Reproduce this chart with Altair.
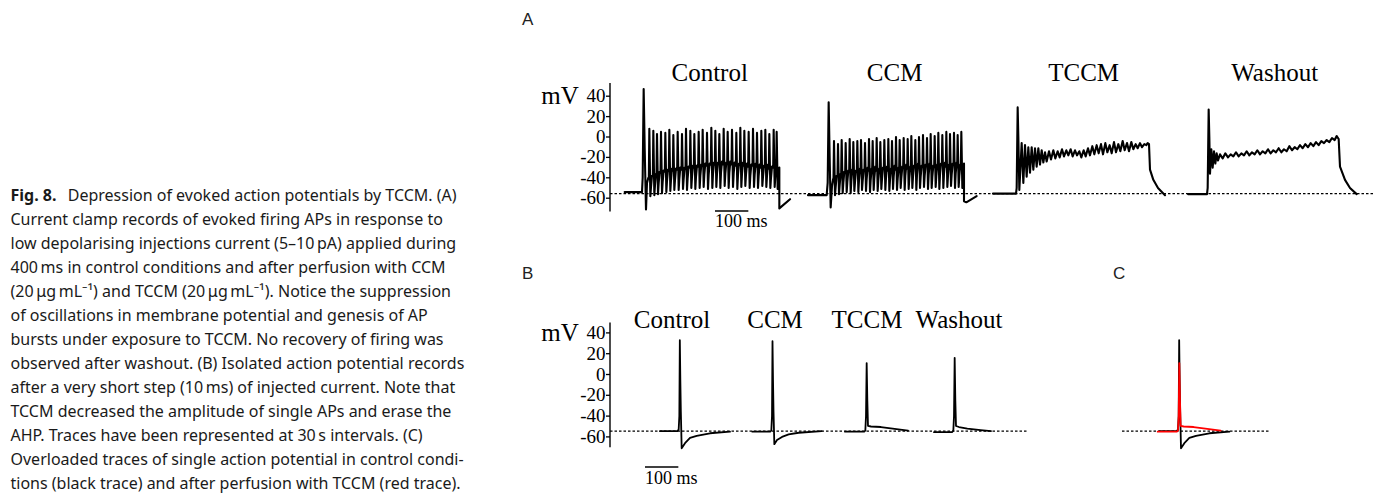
import altair as alt
import pandas as pd

# ---------------- data ----------------
conditions = ["Control", "CCM", "TCCM", "Washout"]
y_ticks = [40, 20, 0, -20, -40, -60]
axis_A = (-73, 53)      # extent of panel A voltage axis (mV)
axis_B = (-70, 50)      # extent of panel B voltage axis (mV)
rest_A = -55.5          # dotted resting level, panel A (mV)
rest_B = -54.5          # dotted resting level, panels B/C (mV)
bar_ms = 100
bar_label = "100 ms"
unit_label = "mV"

# Panel A — Control (t in ms from stimulus onset, mV)
ctrl_pre = [(-55, -54), (-3, -54), (-1, -40), (2, 47), (5, -10), (9, -71), (12, -45), (16, -40)]
ctrl_spike_t = [19, 31, 42, 54, 67, 79, 91, 104, 117, 129, 142, 154, 167, 179, 192, 205,
                217, 229, 242, 254, 267, 280, 292, 304, 317, 330, 342, 355, 367, 379, 392, 401]
ctrl_peak = [8, 6, 3, 5, 4, 7, 2, 5, 3, 8, 6, 3, 5, 7, 4, 9,
             6, 3, 8, 5, 7, 4, 9, 6, 5, 8, 4, 6, 7, 3, 7, 5]
ctrl_trough = [-58, -57, -56, -55, -54, -53, -52, -52, -51, -52, -50, -51, -50, -49, -51, -50,
               -49, -50, -48, -50, -49, -51, -49, -48, -50, -49, -50, -48, -49, -50, -49, -51]
ctrl_plateau = [-40, -38, -36, -35, -34, -33, -33, -32, -32, -31, -30, -30, -29, -28, -28, -27,
                -27, -26, -27, -26, -27, -28, -27, -28, -29, -28, -29, -30, -29, -31, -30, -32]
ctrl_post = [(409, -70), (441, -61)]

# Panel A — CCM
ccm_pre = [(-60, -57), (-4, -57), (-1, -45), (2, 34), (5, -20), (8, -69), (12, -48), (15, -42)]
ccm_spike_t = [18, 30, 41, 53, 65, 76, 88, 99, 111, 123, 134, 146, 157, 169, 181, 192, 204,
               215, 227, 239, 250, 262, 273, 285, 297, 308, 320, 331, 343, 355, 366, 378, 389, 400]
ccm_peak = [-4, -7, -3, -6, -2, -5, -4, -3, -6, -2, -4, -1, -5, -3, -2, -4, 0,
            -3, -1, -2, 1, -3, 0, 2, -1, 3, 1, 4, 2, 5, 3, 4, 2, 5]
ccm_trough = [-57, -56, -55, -54, -55, -53, -54, -52, -53, -54, -52, -53, -51, -52, -53, -51, -52,
              -50, -52, -51, -50, -52, -50, -49, -51, -50, -49, -51, -50, -49, -48, -50, -49, -50]
ccm_plateau = [-40, -38, -36, -35, -34, -35, -33, -34, -32, -33, -31, -33, -32, -31, -33, -30, -32,
               -31, -29, -31, -30, -28, -30, -29, -28, -30, -29, -28, -27, -29, -28, -27, -29, -28]
ccm_post = [(408, -63), (415, -64), (446, -58)]

# Panel A — TCCM (vertices, ms from onset, mV)
tccm_A = [(-72, -55.5), (-3, -55.5), (-1, -50), (2, 29), (4, 0), (7, -52),
          (14, -6), (19, -45), (24, -8), (29, -39), (34, -10), (39, -35), (44, -10), (49, -32),
          (54, -11), (59, -29), (64, -11), (69, -27), (74, -13), (79, -25), (84, -15), (89, -24),
          (96, -14), (102, -22), (109, -13), (115, -21), (122, -14), (128, -20), (135, -12),
          (141, -19), (148, -13), (154, -18), (161, -12), (167, -19), (174, -13), (180, -18),
          (187, -14), (193, -20), (200, -13), (206, -19), (213, -11), (219, -18), (226, -9),
          (232, -17), (239, -8), (245, -16), (252, -7), (258, -17), (265, -6), (271, -15),
          (278, -8), (284, -16), (291, -5), (297, -15), (304, -7), (310, -14), (317, -4),
          (323, -13), (330, -6), (336, -14), (343, -5), (349, -12), (356, -7), (362, -11),
          (369, -6), (375, -10), (382, -7), (388, -8),
          (392, -6), (396, -7), (399, -32), (409, -42), (423, -50), (444, -57)]

# Panel A — Washout
wash_A = [(-60, -56), (-3, -56), (-1, -50), (2, 27), (4, 0), (6, -36), (10, -12), (14, -30),
          (18, -14), (22, -26), (26, -16), (30, -23),
          (36, -17), (44, -21), (52, -16), (60, -20), (68, -17), (76, -19), (84, -15), (92, -19),
          (100, -16), (108, -18), (116, -14), (124, -18), (132, -15), (140, -17), (148, -13),
          (156, -17), (164, -14), (172, -16), (180, -12), (188, -16), (196, -13), (204, -15),
          (212, -11), (220, -15), (228, -12), (236, -14), (244, -9), (252, -13), (260, -10),
          (268, -12), (276, -8), (284, -11), (292, -7), (300, -10), (308, -6), (316, -9),
          (324, -5), (332, -8), (340, -4), (348, -6), (356, -3), (364, -5), (372, -1), (380, -3),
          (386, 1),
          (392, -2), (396, -29), (411, -42), (426, -50), (446, -56)]

# Panel B — isolated APs (ms from spike, mV)
ctrl_B = [(-58, -54.5), (-6, -54.5), (-2, -53), (0, -40), (1.5, 33), (3, -5), (4.5, -35),
          (7, -71), (17, -66), (32, -61), (52, -59), (92, -56.5), (152, -55)]
ccm_B = [(-59, -55), (-6, -55), (-2, -54), (0, -40), (1.5, 32), (3, -5), (4.5, -35),
         (7, -67), (15, -63), (30, -60), (50, -57.5), (80, -56), (149, -54.5)]
tccm_B = [(-63, -55), (-6, -55), (-2, -54), (0, -40), (2, 11), (4, -25), (6, -49.5),
          (15, -50), (45, -50.5), (80, -52), (126, -54)]
wash_B = [(-60, -55.5), (-6, -55.5), (-2, -54), (0, -40), (2, 16), (4, -25), (6, -49.5),
          (15, -50.5), (40, -52), (80, -53.5), (111, -54.5)]

caption_bold = "Fig. 8."
caption_lines = [
    "Depression of evoked action potentials by TCCM. (A)",
    "Current clamp records of evoked firing APs in response to",
    "low depolarising injections current (5\u201310\u2009pA) applied during",
    "400\u2009ms in control conditions and after perfusion with CCM",
    "(20\u2009\u03bcg\u2009mL\u207b\u00b9) and TCCM (20\u2009\u03bcg\u2009mL\u207b\u00b9). Notice the suppression",
    "of oscillations in membrane potential and genesis of AP",
    "bursts under exposure to TCCM. No recovery of firing was",
    "observed after washout. (B) Isolated action potential records",
    "after a very short step (10\u2009ms) of injected current. Note that",
    "TCCM decreased the amplitude of single APs and erase the",
    "AHP. Traces have been represented at 30\u2009s intervals. (C)",
    "Overloaded traces of single action potential in control condi-",
    "tions (black trace) and after perfusion with TCCM (red trace).",
]
panel_letters = ["A", "B", "C"]

# ---------------- layout (shared time axis: 3 ms per pixel) ----------------
W, H = 1367, 485
X_MAX = W * 3
onset_A = [1905, 2460, 3027, 3600]
spike_B = [2014, 2292, 2574, 2838]
spike_C = 3512
title_A_dx = 200
title_B_x = [1992, 2301, 2577, 2853]
axis_x = 1806           # time position of the voltage axis line
tick_len = 12           # 4 px
dot_A = (1806, 4101)
dot_B = (1806, 3060)
dot_C = (3342, 3786)
bar_A_x = 2121
bar_B_x = 1911

xs = alt.Scale(domain=[0, X_MAX], nice=False, zero=False)
yA = alt.Scale(domain=[-73, 53], range=[203.46, 74.94], nice=False, zero=False)
yB = alt.Scale(domain=[-70, 50], range=[439.3, 314.5], nice=False, zero=False)
ycap = alt.Scale(domain=[0, 12], range=[192.5, 480.5], nice=False, zero=False)

SERIF = "Liberation Serif"


def train(pre, ts, pk, tr, pl, post):
    pts = list(pre)
    for t, p, lo, m in zip(ts, pk, tr, pl):
        pts += [(t - 1.5, m), (t, p), (t + 3, lo), (t + 5, m - 9), (t + 8, m + 2)]
    return pts + list(post)


def frame(pts, cond, offset):
    return pd.DataFrame({
        "cond": cond,
        "k": list(range(len(pts))),
        "tp": [offset + t for t, _ in pts],
        "v": [v for _, v in pts],
    })


def X(field):
    return alt.X(field, scale=xs, axis=None)


def volt_axis(ys, extent, unit_y):
    line = alt.Chart(pd.DataFrame({"ax": [axis_x], "v0": [extent[0]], "v1": [extent[1]]})).mark_rule(
        color="black", strokeWidth=1.4).encode(
        x=X("ax:Q"), y=alt.Y("v0:Q", scale=ys, axis=None), y2="v1:Q")
    tdf = pd.DataFrame({"x0": axis_x - tick_len, "x1": axis_x, "v": y_ticks,
                        "lab": [str(v) for v in y_ticks]})
    ticks = alt.Chart(tdf).mark_rule(color="black", strokeWidth=1.3).encode(
        x=X("x0:Q"), x2="x1:Q", y=alt.Y("v:Q", scale=ys, axis=None))
    labels = alt.Chart(tdf).mark_text(font=SERIF, fontSize=19, color="black", align="right",
                                      baseline="middle", dx=-0.5).encode(
        x=X("x0:Q"), y=alt.Y("v:Q", scale=ys, axis=None), text="lab:N")
    unit = alt.Chart(pd.DataFrame({"t": [unit_label]})).mark_text(
        font=SERIF, fontSize=25, color="black", align="center", baseline="middle").encode(
        x=alt.value(552), y=alt.value(unit_y), text="t:N")
    return [line, ticks, labels, unit]


traces_A = [train(ctrl_pre, ctrl_spike_t, ctrl_peak, ctrl_trough, ctrl_plateau, ctrl_post),
            train(ccm_pre, ccm_spike_t, ccm_peak, ccm_trough, ccm_plateau, ccm_post),
            tccm_A, wash_A]
dfA = pd.concat([frame(p, c, o) for p, c, o in zip(traces_A, conditions, onset_A)])
dfB = pd.concat([frame(p, c, o) for p, c, o in zip([ctrl_B, ccm_B, tccm_B, wash_B], conditions, spike_B)])
dfC_black = frame(ctrl_B, "Control", spike_C)
dfC_red = frame(tccm_B, "TCCM", spike_C)

line_style = dict(strokeJoin="round", strokeCap="round")
dot_style = dict(color="black", strokeWidth=1.3, strokeDash=[2.5, 2])

# ---------------- panel A ----------------
tracesA = alt.Chart(dfA).mark_line(color="black", strokeWidth=2.1, **line_style).encode(
    x=X("tp:Q"), y=alt.Y("v:Q", scale=yA, axis=None), detail="cond:N", order="k:Q")
dottedA = alt.Chart(pd.DataFrame({"x0": [dot_A[0]], "x1": [dot_A[1]], "v": [rest_A]})).mark_rule(
    **dot_style).encode(x=X("x0:Q"), x2="x1:Q", y=alt.Y("v:Q", scale=yA, axis=None))
titlesA = alt.Chart(pd.DataFrame({"cond": conditions, "tx": [o + title_A_dx for o in onset_A]})).mark_text(
    font=SERIF, fontSize=25, color="black", align="center", baseline="middle").encode(
    x=X("tx:Q"), y=alt.value(65), text="cond:N")
barA = alt.Chart(pd.DataFrame({"x0": [bar_A_x], "x1": [bar_A_x + bar_ms]})).mark_rule(
    color="black", strokeWidth=1.3).encode(x=X("x0:Q"), x2="x1:Q", y=alt.value(203))
barTextA = alt.Chart(pd.DataFrame({"x0": [bar_A_x], "t": [bar_label]})).mark_text(
    font=SERIF, fontSize=18, color="black", align="left", baseline="middle").encode(
    x=X("x0:Q"), y=alt.value(214), text="t:N")
layerA = alt.layer(dottedA, tracesA, titlesA, barA, barTextA, *volt_axis(yA, axis_A, 88))

# ---------------- panels B and C ----------------
tracesB = alt.Chart(dfB).mark_line(color="black", strokeWidth=1.8, **line_style).encode(
    x=X("tp:Q"), y=alt.Y("v:Q", scale=yB, axis=None), detail="cond:N", order="k:Q")
dotted_BC = alt.Chart(pd.DataFrame({"x0": [dot_B[0], dot_C[0]], "x1": [dot_B[1], dot_C[1]],
                                    "v": [rest_B, rest_B]})).mark_rule(**dot_style).encode(
    x=X("x0:Q"), x2="x1:Q", y=alt.Y("v:Q", scale=yB, axis=None))
cBlack = alt.Chart(dfC_black).mark_line(color="black", strokeWidth=1.8, **line_style).encode(
    x=X("tp:Q"), y=alt.Y("v:Q", scale=yB, axis=None), order="k:Q")
cRed = alt.Chart(dfC_red).mark_line(color="#ff0000", strokeWidth=1.8, **line_style).encode(
    x=X("tp:Q"), y=alt.Y("v:Q", scale=yB, axis=None), order="k:Q")
titlesB = alt.Chart(pd.DataFrame({"cond": conditions, "tx": title_B_x})).mark_text(
    font=SERIF, fontSize=25, color="black", align="center", baseline="middle").encode(
    x=X("tx:Q"), y=alt.value(312), text="cond:N")
barB = alt.Chart(pd.DataFrame({"x0": [bar_B_x], "x1": [bar_B_x + bar_ms]})).mark_rule(
    color="black", strokeWidth=1.3).encode(x=X("x0:Q"), x2="x1:Q", y=alt.value(459))
barTextB = alt.Chart(pd.DataFrame({"x0": [bar_B_x], "t": [bar_label]})).mark_text(
    font=SERIF, fontSize=18, color="black", align="left", baseline="middle").encode(
    x=X("x0:Q"), y=alt.value(471), text="t:N")
layerB = alt.layer(dotted_BC, tracesB, cBlack, cRed, titlesB, barB, barTextB,
                   *volt_axis(yB, axis_B, 325))

# ---------------- caption ----------------
cap_style = dict(font="Noto Sans", fontSize=16, color="#1a1a1a", align="left", baseline="alphabetic")
capBold = alt.Chart(pd.DataFrame({"i": [0], "t": [caption_bold]})).mark_text(
    fontWeight="bold", **cap_style).encode(
    x=alt.value(2.5), y=alt.Y("i:Q", scale=ycap, axis=None), text="t:N")
capFirst = alt.Chart(pd.DataFrame({"i": [0], "t": [caption_lines[0]]})).mark_text(**cap_style).encode(
    x=alt.value(59.7), y=alt.Y("i:Q", scale=ycap, axis=None), text="t:N")
capRest = alt.Chart(pd.DataFrame({"i": list(range(1, len(caption_lines))),
                                  "t": caption_lines[1:]})).mark_text(**cap_style).encode(
    x=alt.value(2.5), y=alt.Y("i:Q", scale=ycap, axis=None), text="t:N")
caption = alt.layer(capBold, capFirst, capRest)

# ---------------- panel letters ----------------
letter_style = dict(font="Liberation Sans", fontSize=17, color="#222222", align="left", baseline="middle")
letters = [alt.Chart(pd.DataFrame({"t": [lab]})).mark_text(**letter_style).encode(
    x=alt.value(px), y=alt.value(py), text="t:N")
    for lab, (px, py) in zip(panel_letters, [(514, 12), (514, 266), (1105, 266)])]

chart = alt.layer(layerA, layerB, caption, *letters).resolve_scale(y="independent").properties(
    width=W, height=H, autosize="none", padding=0, background="white"
).configure_view(stroke=None)

chart.save("out.html", embed_options={"renderer": "svg", "actions": False})
